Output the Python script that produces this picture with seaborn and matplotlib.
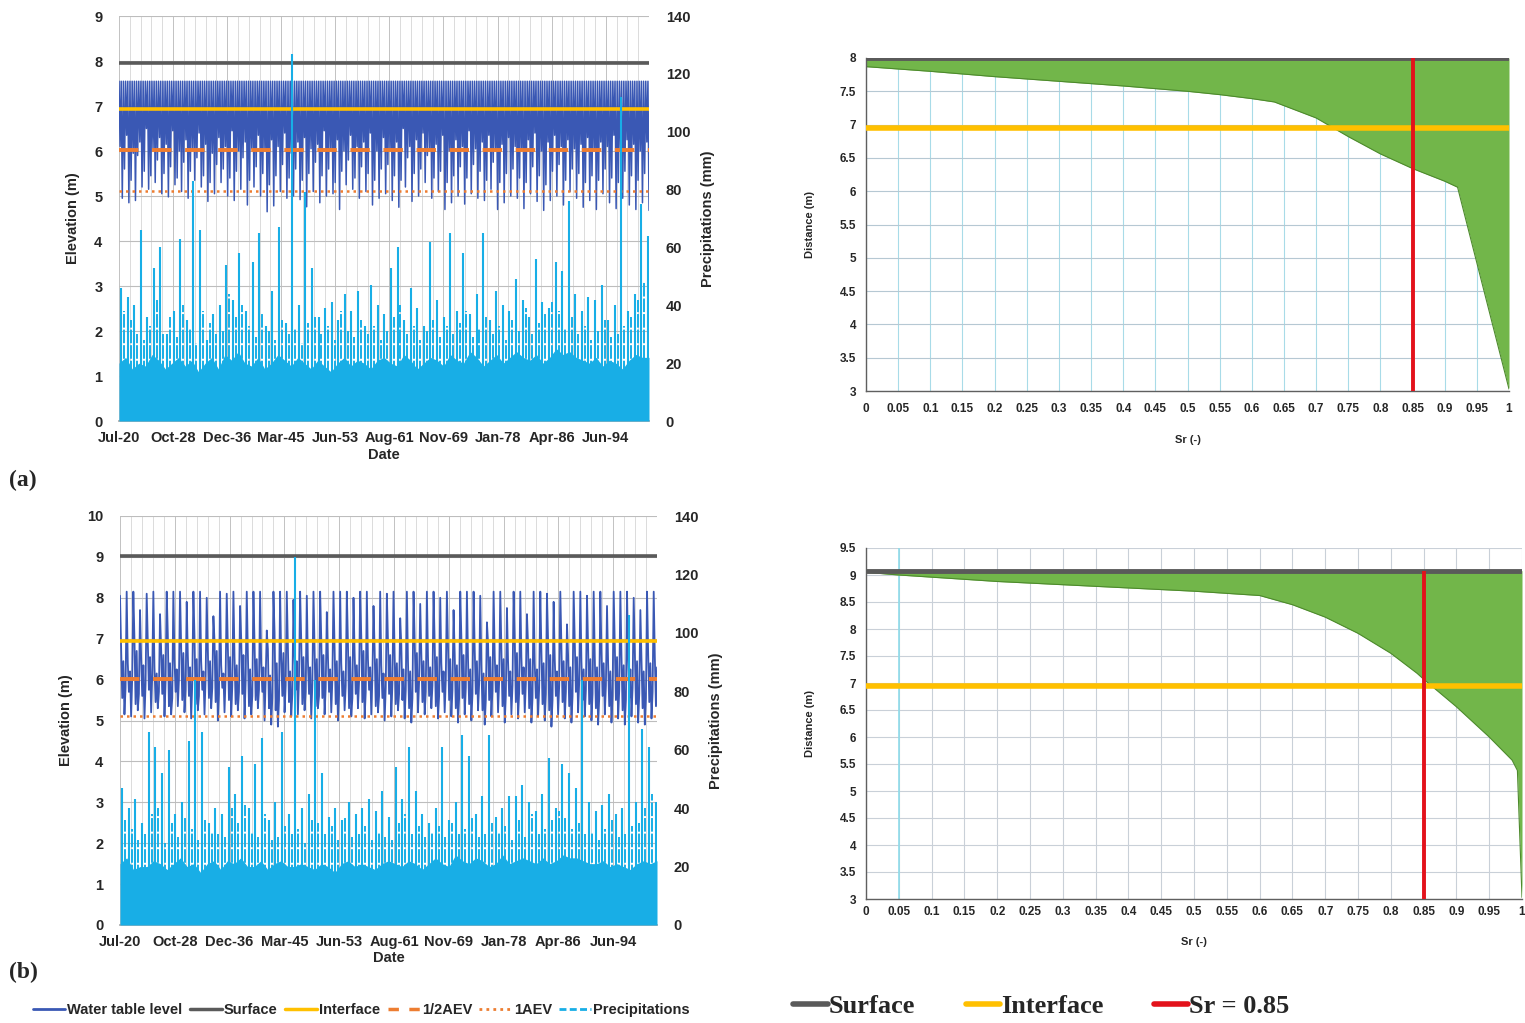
import numpy as np
import pandas as pd
import seaborn as sns
import matplotlib.pyplot as plt
from matplotlib.lines import Line2D

# ---------------- time axis (days after 20 Jul 1920) ----------------
date_labels = ['Jul-20', 'Oct-28', 'Dec-36', 'Mar-45', 'Jun-53',
               'Aug-61', 'Nov-69', 'Jan-78', 'Apr-86', 'Jun-94']
date_step = 3000
grid_step = 600
day_end = 29400
year_days = 365.25

# ---------------- panel (a) : reference levels ----------------
surface_a = 7.95
interface_a = 6.93
half_aev_a = 6.03
aev_a = 5.12
wt_a_cap = 7.55

# yearly minima of the water table (m)
wt_a_low = [4.95, 4.85, 4.90, 5.20, 5.15, 5.30, 5.05, 4.98, 5.25, 5.10,
            4.95, 5.35, 5.20, 4.88, 5.05, 5.30, 5.00, 4.90, 5.15, 4.80,
            5.20, 5.00, 4.65, 4.78, 5.10, 4.95, 5.00, 4.92, 4.76, 5.10,
            4.85, 5.00, 5.05, 4.70, 5.25, 5.15, 4.95, 5.10, 4.80, 4.95,
            5.05, 4.90, 4.75, 5.20, 4.88, 5.00, 5.30, 4.95, 5.10, 4.70,
            4.85, 5.00, 4.82, 5.05, 4.95, 4.90, 5.15, 4.70, 4.85, 5.00,
            4.95, 4.72, 5.05, 4.88, 4.68, 4.90, 5.00, 4.80, 5.10, 4.95,
            4.75, 4.90, 4.70, 5.05, 4.85, 4.72, 4.95, 4.80, 4.70, 4.85,
            4.68]
# secondary dips inside each year (m)
wt_a_mid1 = [5.60, 5.35, 5.90, 5.55, 5.45, 5.80, 5.50, 5.65, 5.40, 5.75,
             5.55, 5.85, 5.45, 5.30, 5.70, 5.60, 5.40, 5.55, 5.85, 5.35,
             5.65, 5.50, 5.25, 5.45, 5.70, 5.40, 5.60, 5.35, 5.50, 5.75,
             5.45, 5.60, 5.30, 5.55, 5.80, 5.40, 5.65, 5.50, 5.35, 5.60,
             5.70, 5.45, 5.35, 5.85, 5.50, 5.60, 5.90, 5.40, 5.55, 5.30,
             5.45, 5.65, 5.40, 5.70, 5.55, 5.35, 5.75, 5.30, 5.50, 5.60,
             5.40, 5.30, 5.65, 5.45, 5.25, 5.55, 5.70, 5.35, 5.60, 5.50,
             5.30, 5.45, 5.35, 5.60, 5.40, 5.30, 5.55, 5.45, 5.35, 5.50,
             5.30]
wt_a_mid2 = [6.10, 6.35, 5.95, 6.20, 6.50, 6.05, 6.30, 6.15, 6.45, 6.00,
             6.25, 6.05, 6.40, 6.15, 5.95, 6.30, 6.10, 6.45, 6.00, 6.20,
             6.05, 6.35, 6.00, 6.25, 6.10, 6.40, 5.95, 6.20, 6.30, 6.05,
             6.15, 6.45, 6.05, 6.25, 6.00, 6.35, 6.10, 6.20, 6.40, 6.00,
             6.30, 6.05, 6.20, 6.50, 6.10, 6.25, 6.40, 6.05, 6.15, 6.35,
             6.00, 6.25, 6.10, 6.45, 6.05, 6.20, 6.35, 6.00, 6.15, 6.30,
             6.10, 6.05, 6.25, 6.40, 6.00, 6.20, 6.35, 6.10, 6.25, 6.05,
             6.15, 6.30, 6.00, 6.20, 6.10, 6.35, 6.05, 6.25, 6.15, 6.00,
             6.20]

# precipitation (mm): yearly largest event, second event, usual daily level
pr_a_peak = [46, 43, 40, 66, 36, 53, 60, 30, 38, 63,
             35, 83, 66, 28, 37, 40, 54, 42, 58, 38,
             55, 65, 33, 45, 67, 34, 127, 40, 79, 53,
             36, 39, 41, 35, 44, 38, 45, 33, 47, 40,
             37, 53, 60, 35, 46, 39, 33, 62, 42, 36,
             65, 38, 58, 37, 44, 65, 35, 45, 40, 38,
             49, 42, 36, 56, 41, 39, 55, 52, 76, 44,
             38, 43, 42, 47, 35, 40, 112, 38, 44, 75,
             64]
pr_a_second = [38, 35, 30, 28, 33, 42, 30, 36, 29, 40,
               32, 27, 38, 34, 30, 31, 44, 36, 40, 33,
               29, 37, 31, 28, 35, 30, 32, 27, 34, 36,
               30, 33, 28, 38, 31, 29, 35, 30, 33, 28,
               31, 36, 40, 30, 33, 28, 31, 35, 29, 33,
               30, 34, 38, 29, 32, 36, 30, 33, 28, 35,
               31, 39, 30, 34, 37, 41, 38, 32, 36, 30,
               33, 28, 31, 35, 29, 30, 33, 36, 42, 48,
               40]
pr_a_base = [20, 22, 18, 20, 19, 23, 21, 18, 20, 22,
             19, 21, 17, 20, 22, 18, 23, 21, 24, 20,
             19, 22, 18, 20, 23, 21, 19, 22, 20, 18,
             21, 19, 17, 20, 22, 19, 21, 20, 18, 21,
             22, 20, 19, 23, 21, 18, 20, 22, 21, 19,
             23, 21, 20, 24, 22, 19, 21, 23, 20, 22,
             24, 22, 21, 23, 20, 22, 25, 23, 24, 22,
             21, 20, 22, 19, 21, 20, 18, 21, 23, 22,
             22]

# ---------------- panel (b) ----------------
surface_b = 9.02
interface_b = 6.94
half_aev_b = 6.01
aev_b = 5.11

wt_b_high = [8.05, 8.15, 8.15, 7.70, 8.10, 8.15, 7.60, 8.15, 8.15, 8.15,
             7.90, 8.15, 8.15, 8.00, 7.55, 8.15, 8.10, 8.15, 7.80, 8.15,
             8.15, 8.15, 7.20, 8.15, 8.15, 8.15, 7.95, 8.15, 8.05, 8.15,
             8.15, 7.65, 8.15, 8.15, 8.15, 8.00, 8.15, 8.15, 7.80, 8.15,
             8.10, 8.15, 7.50, 8.15, 8.15, 7.85, 8.15, 8.15, 8.00, 8.15,
             7.70, 8.15, 8.15, 8.15, 8.05, 7.40, 8.15, 8.15, 7.75, 8.15,
             8.15, 7.60, 8.15, 8.15, 8.10, 7.90, 8.15, 7.35, 8.15, 8.15,
             8.05, 8.15, 8.15, 7.80, 8.15, 8.15, 8.15, 8.00, 7.70, 8.15,
             8.15]
wt_b_low = [5.15, 5.10, 5.25, 5.05, 5.20, 5.30, 5.10, 5.15, 5.35, 5.20,
            5.05, 5.25, 5.15, 5.30, 5.00, 5.20, 5.10, 5.25, 5.05, 5.15,
            5.30, 5.00, 4.90, 4.85, 5.20, 5.10, 5.15, 5.25, 5.05, 5.30,
            5.15, 5.20, 5.00, 5.25, 5.10, 5.30, 5.05, 5.15, 5.20, 5.00,
            5.10, 5.25, 5.05, 4.95, 5.20, 5.15, 5.30, 5.05, 5.20, 5.10,
            4.95, 5.15, 5.00, 5.25, 4.90, 5.10, 5.20, 4.95, 5.15, 5.05,
            5.20, 4.95, 5.10, 5.00, 4.85, 5.15, 5.05, 4.95, 5.20, 5.10,
            5.00, 4.90, 5.15, 4.95, 5.05, 4.90, 5.10, 4.95, 4.90, 5.05,
            4.95]
wt_b_mid1 = [6.80, 6.40, 7.00, 6.55, 6.90, 6.30, 6.75, 7.10, 6.50, 6.85,
             6.60, 7.05, 6.45, 6.70, 6.95, 6.35, 6.80, 6.55, 7.00, 6.65,
             6.90, 6.40, 6.75, 7.15, 6.50, 6.85, 6.60, 6.95, 6.45, 6.70,
             7.00, 6.55, 6.80, 6.40, 6.90, 6.65, 7.05, 6.50, 6.75, 6.35,
             6.95, 6.60, 6.85, 6.45, 7.00, 6.70, 6.55, 6.90, 6.40, 6.80,
             6.65, 7.05, 6.50, 6.75, 6.35, 6.90, 6.60, 6.80, 6.45, 7.00,
             6.55, 6.85, 6.40, 6.70, 6.95, 6.50, 6.75, 6.60, 6.90, 6.45,
             6.80, 6.55, 6.70, 6.40, 6.85, 6.60, 6.50, 6.75, 6.45, 6.65,
             6.55]
wt_b_mid2 = [5.80, 6.05, 5.65, 5.90, 6.10, 5.70, 5.95, 5.55, 6.00, 5.75,
             5.90, 5.60, 6.05, 5.80, 5.65, 6.10, 5.85, 5.70, 5.95, 5.60,
             5.75, 6.00, 5.55, 5.50, 5.85, 5.65, 6.05, 5.70, 5.90, 5.60,
             5.80, 6.00, 5.65, 5.85, 5.55, 5.95, 5.70, 6.05, 5.60, 5.80,
             5.90, 5.65, 5.75, 5.55, 5.95, 5.70, 5.85, 5.60, 6.00, 5.75,
             5.55, 5.80, 5.65, 5.90, 5.50, 5.75, 5.95, 5.60, 5.85, 5.70,
             5.90, 5.55, 5.80, 5.65, 5.50, 5.85, 5.70, 5.60, 5.95, 5.75,
             5.65, 5.55, 5.85, 5.60, 5.75, 5.50, 5.80, 5.65, 5.55, 5.70,
             5.60]
wt_b_mid3 = [6.45, 6.20, 6.70, 6.35, 6.55, 6.15, 6.60, 6.40, 6.25, 6.65,
             6.30, 6.50, 6.20, 6.45, 6.70, 6.15, 6.55, 6.35, 6.60, 6.25,
             6.50, 6.30, 6.10, 6.40, 6.65, 6.20, 6.45, 6.55, 6.30, 6.50,
             6.60, 6.25, 6.45, 6.20, 6.55, 6.35, 6.70, 6.30, 6.50, 6.15,
             6.60, 6.40, 6.25, 6.20, 6.65, 6.45, 6.30, 6.55, 6.20, 6.50,
             6.35, 6.60, 6.25, 6.45, 6.15, 6.55, 6.35, 6.50, 6.20, 6.65,
             6.30, 6.50, 6.25, 6.40, 6.60, 6.20, 6.45, 6.30, 6.55, 6.25,
             6.50, 6.30, 6.40, 6.20, 6.55, 6.35, 6.25, 6.45, 6.20, 6.40,
             6.30]
wt_b_mid4 = [5.55, 5.70, 5.40, 5.60, 5.75, 5.45, 5.65, 5.35, 5.70, 5.50,
             5.60, 5.40, 5.75, 5.55, 5.45, 5.80, 5.50, 5.40, 5.65, 5.35,
             5.50, 5.70, 5.30, 5.25, 5.60, 5.45, 5.75, 5.40, 5.65, 5.35,
             5.55, 5.70, 5.40, 5.60, 5.30, 5.65, 5.45, 5.75, 5.35, 5.55,
             5.65, 5.40, 5.50, 5.30, 5.70, 5.45, 5.60, 5.35, 5.70, 5.50,
             5.30, 5.55, 5.40, 5.65, 5.25, 5.50, 5.70, 5.35, 5.60, 5.45,
             5.65, 5.30, 5.55, 5.40, 5.25, 5.60, 5.45, 5.35, 5.70, 5.50,
             5.40, 5.30, 5.60, 5.35, 5.50, 5.25, 5.55, 5.40, 5.30, 5.45,
             5.35]

pr_b_peak = [47, 40, 43, 35, 66, 61, 52, 60, 38, 42,
             63, 84, 66, 35, 40, 38, 54, 45, 58, 40,
             55, 64, 36, 42, 66, 38, 126, 40, 45, 84,
             52, 37, 40, 36, 42, 38, 40, 43, 39, 46,
             37, 54, 43, 61, 46, 38, 35, 40, 61, 36,
             42, 65, 58, 38, 44, 65, 37, 40, 44, 44,
             48, 42, 39, 45, 57, 40, 55, 52, 47, 84,
             42, 39, 41, 45, 38, 40, 106, 42, 67, 61,
             42]
pr_b_second = [36, 33, 29, 31, 38, 40, 28, 35, 30, 37,
               33, 29, 36, 32, 31, 30, 40, 35, 41, 32,
               30, 38, 29, 30, 34, 31, 33, 28, 36, 35,
               31, 34, 29, 37, 30, 31, 34, 29, 32, 30,
               29, 35, 38, 31, 34, 30, 32, 34, 30, 35,
               31, 33, 37, 30, 31, 35, 32, 34, 29, 36,
               30, 38, 31, 33, 36, 39, 37, 33, 35, 31,
               32, 29, 33, 36, 30, 31, 34, 35, 40, 45,
               38]
pr_b_base = [21, 23, 19, 20, 20, 22, 21, 19, 21, 23,
             20, 21, 18, 21, 22, 19, 22, 21, 23, 20,
             20, 22, 19, 21, 22, 20, 20, 21, 20, 19,
             21, 20, 18, 21, 22, 20, 21, 20, 19, 21,
             22, 21, 20, 22, 21, 19, 21, 23, 21, 20,
             24, 22, 21, 23, 22, 20, 21, 24, 21, 22,
             23, 22, 21, 23, 21, 22, 24, 23, 23, 22,
             21, 21, 22, 20, 21, 20, 19, 21, 22, 21,
             22]

# ---------------- saturation profiles ----------------
sr_a = [0, 0.1, 0.2, 0.3, 0.4, 0.5, 0.55, 0.6, 0.635, 0.7, 0.75, 0.8, 0.85, 0.9, 0.92, 1.0]
dist_a = [7.87, 7.80, 7.72, 7.65, 7.58, 7.50, 7.45, 7.39, 7.34, 7.10, 6.82, 6.56, 6.34, 6.15, 6.06, 3.03]
top_a = 8.0
iface_a_prof = 6.95

sr_b = [0, 0.05, 0.1, 0.2, 0.3, 0.4, 0.5, 0.6, 0.65, 0.7, 0.75, 0.8, 0.84, 0.85, 0.9, 0.95, 0.985, 0.993, 1.0]
dist_b = [9.05, 9.00, 8.96, 8.88, 8.82, 8.76, 8.70, 8.62, 8.45, 8.22, 7.92, 7.55, 7.18, 7.07, 6.56, 6.00, 5.57, 5.38, 3.03]
top_b = 9.08
iface_b_prof = 6.95
sr_crit = 0.85

# ---------------- style ----------------
sns.set_theme(style='white')
plt.rcParams['font.family'] = ['Liberation Sans', 'DejaVu Sans']
plt.rcParams['font.weight'] = 'bold'
plt.rcParams['axes.labelweight'] = 'bold'

c_wt = '#3a58b4'
c_pr = '#18aee6'
c_surf = '#5a5a5a'
c_int = '#ffc000'
c_aev = '#ed7d31'
c_green = '#72b64a'
c_red = '#e3121b'

fig = plt.figure(figsize=(15.25, 10.23), dpi=100)


def water_panel(rect, wt_x, wt_y, wt_lw, peak, second, base, levels, ytop):
    surface, interface, half_aev, aev = levels
    ax = fig.add_axes(rect)
    # grid
    for d in np.arange(0, day_end + 1, grid_step):
        ax.axvline(d, color='#b8b8b8' if d % date_step == 0 else '#d6d6d6', lw=0.6, zorder=0)
    for e in range(0, ytop + 1):
        ax.axhline(e, color='#bdbdbd', lw=0.8, zorder=0)

    df = pd.DataFrame({'day': wt_x, 'elev': wt_y})
    sns.lineplot(data=df, x='day', y='elev', ax=ax, sort=False, estimator=None,
                 color=c_wt, lw=wt_lw, zorder=2)
    ax.axhline(surface, color=c_surf, lw=2.6, zorder=3)
    ax.axhline(interface, color=c_int, lw=2.6, zorder=3)
    ax.axhline(half_aev, color=c_aev, lw=2.8, ls=(0, (5, 3.5)), zorder=3)
    ax.axhline(aev, color=c_aev, lw=1.8, ls=(0, (1, 1.6)), zorder=3)

    ax.set_xlim(0, day_end)
    ax.set_ylim(0, ytop)
    ax.set_yticks(range(0, ytop + 1))
    ax.set_xticks([k * date_step for k in range(len(date_labels))])
    ax.set_xticklabels(date_labels)
    ax.tick_params(axis='x', length=4, color='#a0a0a0', labelsize=10.5, pad=3)
    ax.tick_params(axis='y', length=0, labelsize=10.5, pad=12)
    ax.set_xlabel('Date', fontsize=10.5, labelpad=2)
    ax.set_ylabel('Elevation (m)', fontsize=10.5, labelpad=10)
    for s in ['top', 'right', 'left']:
        ax.spines[s].set_visible(False)
    ax.spines['bottom'].set_color('#a6a6a6')

    ax2 = ax.twinx()
    n = len(peak)
    base_x = np.linspace(0, day_end, n)
    ax2.fill_between(base_x, 0, base, color=c_pr, lw=0, zorder=1)
    ax2.vlines([(i + 0.3) * year_days for i in range(n)], 0, peak,
               color=c_pr, lw=1.5, zorder=2)
    ax2.vlines([(i + 0.75) * year_days for i in range(n)], 0, second,
               color=c_pr, lw=1.4, linestyles=(0, (7, 1)), zorder=2)
    ax2.set_xlim(0, day_end)
    ax2.set_ylim(0, 140)
    ax2.set_yticks(range(0, 141, 20))
    ax2.tick_params(axis='y', length=0, labelsize=10.5, pad=12)
    ax2.set_ylabel('Precipitations (mm)', fontsize=10.5, labelpad=8)
    for s in ['top', 'right', 'left', 'bottom']:
        ax2.spines[s].set_visible(False)
    return ax


# water table paths built from the yearly readings
xa, ya = [], []
for i in range(len(wt_a_low)):
    seq = [wt_a_cap, wt_a_mid2[i], wt_a_cap, wt_a_low[i], wt_a_cap, wt_a_mid1[i]]
    for k, v in enumerate(seq):
        xa.append((i + k / 6) * year_days)
        ya.append(v)

xb, yb = [], []
for i in range(len(wt_b_low)):
    seq = [wt_b_high[i], wt_b_mid1[i], wt_b_mid4[i], wt_b_mid3[i], wt_b_low[i], wt_b_mid2[i]]
    for k, v in enumerate(seq):
        xb.append((i + k / 6) * year_days)
        yb.append(v)

water_panel([119 / 1525, 1 - 421 / 1023, 530 / 1525, 405 / 1023], xa, ya, 1.1,
            pr_a_peak, pr_a_second, pr_a_base,
            (surface_a, interface_a, half_aev_a, aev_a), 9)
water_panel([120 / 1525, 1 - 925 / 1023, 537 / 1525, 409 / 1023], xb, yb, 1.3,
            pr_b_peak, pr_b_second, pr_b_base,
            (surface_b, interface_b, half_aev_b, aev_b), 10)


def profile_panel(rect, sr, dist, top, iface, ymax, vgrid, hgrid, tick_in):
    ax = fig.add_axes(rect)
    xt = np.round(np.arange(0, 1.0001, 0.05), 2)
    yt = np.arange(3, ymax + 0.001, 0.5)
    for v in xt:
        ax.axvline(v, color=vgrid, lw=0.8, zorder=0)
    for v in yt:
        ax.axhline(v, color=hgrid, lw=0.8, zorder=0)
    ax.fill_between(sr, dist, top, color=c_green, lw=0, zorder=1)
    sns.lineplot(x=sr, y=dist, ax=ax, sort=False, estimator=None,
                 color='#4d8a2c', lw=0.8, zorder=2)
    ax.plot([0, 1], [top, top], color=c_surf, lw=3.5, zorder=3, solid_capstyle='butt')
    ax.plot([0, 1], [iface, iface], color=c_int, lw=4, zorder=3, solid_capstyle='butt')
    ax.plot([sr_crit, sr_crit], [3, top], color=c_red, lw=2.8, zorder=4, solid_capstyle='butt')
    ax.set_xlim(0, 1)
    ax.set_ylim(3, ymax)
    ax.set_xticks(xt)
    ax.set_xticklabels([f'{v:g}' for v in xt])
    ax.set_yticks(yt)
    ax.set_yticklabels([f'{v:g}' for v in yt])
    ax.tick_params(axis='x', direction='in' if tick_in else 'out', length=8 if tick_in else 4,
                   color='#555555', labelsize=8.5, pad=5)
    ax.tick_params(axis='y', direction='out', length=5, color='#555555', labelsize=8.5, pad=2)
    ax.set_xlabel('Sr (-)', fontsize=8, labelpad=14)
    ax.set_ylabel('Distance (m)', fontsize=8, labelpad=18)
    for s in ['top', 'right']:
        ax.spines[s].set_visible(False)
    for s in ['left', 'bottom']:
        ax.spines[s].set_color('#5f5f5f')
        ax.spines[s].set_linewidth(1.0)
    return ax


profile_panel([866 / 1525, 1 - 391 / 1023, 643 / 1525, 333 / 1023],
              sr_a, dist_a, top_a, iface_a_prof, 8, '#a8dbe8', '#b6c8d3', False)
axb = profile_panel([866 / 1525, 1 - 899 / 1023, 656 / 1525, 351 / 1023],
                    sr_b, dist_b, top_b, iface_b_prof, 9.5, '#c9d0d8', '#c9d0d8', True)
axb.axvline(0.05, color='#8edbea', lw=1.2, zorder=0)

# panel letters
fig.text(0.006, 1 - 480 / 1023, '(a)', family='Liberation Serif', weight='bold', fontsize=17, va='center')
fig.text(0.006, 1 - 972 / 1023, '(b)', family='Liberation Serif', weight='bold', fontsize=17, va='center')

# legends
left_handles = [Line2D([], [], color=c_wt, lw=2),
                Line2D([], [], color=c_surf, lw=2.5),
                Line2D([], [], color=c_int, lw=2.5),
                Line2D([], [], color=c_aev, lw=2.5, ls=(0, (3, 3))),
                Line2D([], [], color=c_aev, lw=2, ls=(0, (1, 1.5))),
                Line2D([], [], color=c_pr, lw=2, ls=(0, (2.5, 1.2)))]
left_labels = ['Water table level', 'Surface', 'Interface', '1/2AEV', '1AEV', 'Precipitations']
fig.legend(left_handles, left_labels, loc='center', bbox_to_anchor=(0.237, 1 - 1010 / 1023),
           ncol=6, frameon=False, prop={'family': 'Liberation Sans', 'weight': 'bold', 'size': 10.5},
           handlelength=2.2, handletextpad=0.15, columnspacing=0.5)

right_handles = [Line2D([], [], color=c_surf, lw=4),
                 Line2D([], [], color=c_int, lw=4),
                 Line2D([], [], color=c_red, lw=4)]
right_labels = ['Surface', 'Interface', 'Sr = 0.85']
fig.legend(right_handles, right_labels, loc='center', bbox_to_anchor=(0.683, 1 - 1006 / 1023),
           ncol=3, frameon=False, prop={'family': 'Liberation Serif', 'weight': 'bold', 'size': 19},
           handlelength=1.3, handletextpad=0.05, columnspacing=1.9)

fig.savefig('out.png', dpi=100)
